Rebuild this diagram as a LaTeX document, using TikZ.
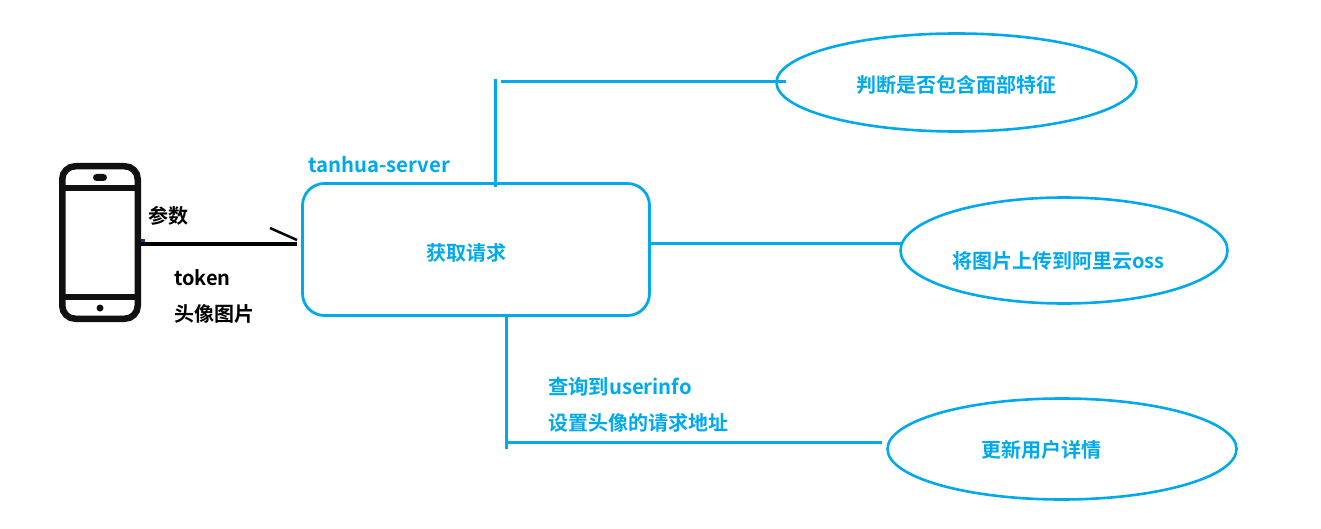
\documentclass[tikz,border=0pt]{standalone}
\usepackage{fontspec}
\setmainfont{Noto Sans CJK SC}[BoldFont={Noto Sans CJK SC Bold}]
\definecolor{azure}{HTML}{00A8EC}
\definecolor{ink}{HTML}{111111}
\tikzset{
  x=1pt,y=-1pt,
  bluetext/.style={text=azure,font=\fontsize{20}{24}\selectfont\bfseries,inner sep=0pt},
  latintext/.style={text=azure,font=\fontsize{20.3}{24}\selectfont\bfseries,inner sep=0pt},
  blacktext/.style={text=black,font=\fontsize{20}{24}\selectfont\bfseries,inner sep=0pt},
  oval/.style={ellipse,draw=azure,line width=2.6pt,inner sep=0pt},
  wire/.style={draw=azure,line width=3pt},
  blackwire/.style={draw=black,line width=3pt},
  phonepart/.style={draw=ink,line width=6.5pt},
}
\usetikzlibrary{shapes.geometric}
\begin{document}
\begin{tikzpicture}
\useasboundingbox (0,0) rectangle (1321,529);
% phone
\node[phonepart,rounded corners=13pt,minimum width=75.5pt,minimum height=152.5pt,inner sep=0pt] (phone) at (100,242.5) {};
\draw[phonepart] (phone.west |- 0,188) -- (phone.east |- 0,188);
\draw[phonepart,line width=6pt] (phone.west |- 0,297) -- (phone.east |- 0,297);
\node[fill=ink,rounded corners=3.5pt,minimum width=14pt,minimum height=7pt,inner sep=0pt] (speaker) at (100,177.5) {};
\node[fill=ink,circle,minimum size=7pt,inner sep=0pt] (homebtn) at (100,308) {};
\node[fill=azure!40!ink!80!blue,minimum width=4pt,minimum height=3pt,inner sep=0pt] (mark) at (143,241) {};
% server box
\node[draw=azure,line width=2.8pt,rounded corners=22pt,minimum width=347pt,minimum height=132pt,inner sep=0pt] (server) at (476,249.5) {};
\node[latintext,anchor=base west] (servername) at (308,173) {tanhua-server};
\node[bluetext] (req) at (466,253) {获取请求};
% ovals
\node[oval,minimum width=360pt,minimum height=98pt] (e1) at (956.5,82.5) {};
\node[bluetext] (e1t) at (956,85) {判断是否包含面部特征};
\node[oval,minimum width=327pt,minimum height=106pt] (e2) at (1064,250.5) {};
\node[bluetext,anchor=base west] (e2t) at (952,269) {将图片上传到阿里云oss};
\node[oval,minimum width=349pt,minimum height=101pt] (e3) at (1062,449) {};
\node[bluetext] (e3t) at (1041,450) {更新用户详情};
% labels
\node[blacktext,anchor=west] (param) at (148,216) {参数};
\node[blacktext,anchor=base west] (token) at (174,285) {token};
\node[blacktext,anchor=west] (avatar) at (174,314) {头像图片};
\node[latintext,anchor=base west] (q1) at (548,394) {查询到userinfo};
\node[bluetext,anchor=west] (q2) at (548,423) {设置头像的请求地址};
% connectors
\coordinate (a1) at (297,244);
\coordinate (t1) at (270,228);
\coordinate (t2) at (297,240);
\draw[blackwire] (phone.east |- a1) -- (a1);
\draw[draw=black,line width=2.5pt] (t1) -- (t2);
\coordinate (v1b) at (495.5,187);
\coordinate (v1t) at (495.5,79);
\coordinate (h1a) at (501,81.5);
\coordinate (h1b) at (786,81.5);
\draw[wire] (v1b) -- (v1t);
\draw[wire] (h1a) -- (h1b);
\coordinate (h2) at (902,243.5);
\draw[wire] (server.east |- h2) -- (h2);
\coordinate (v3t) at (506.5,316);
\coordinate (v3b) at (506.5,449);
\coordinate (h3a) at (506.5,442);
\coordinate (h3b) at (882,442);
\draw[wire] (v3t) -- (v3b);
\draw[wire] (h3a) -- (h3b);
\end{tikzpicture}
\end{document}
